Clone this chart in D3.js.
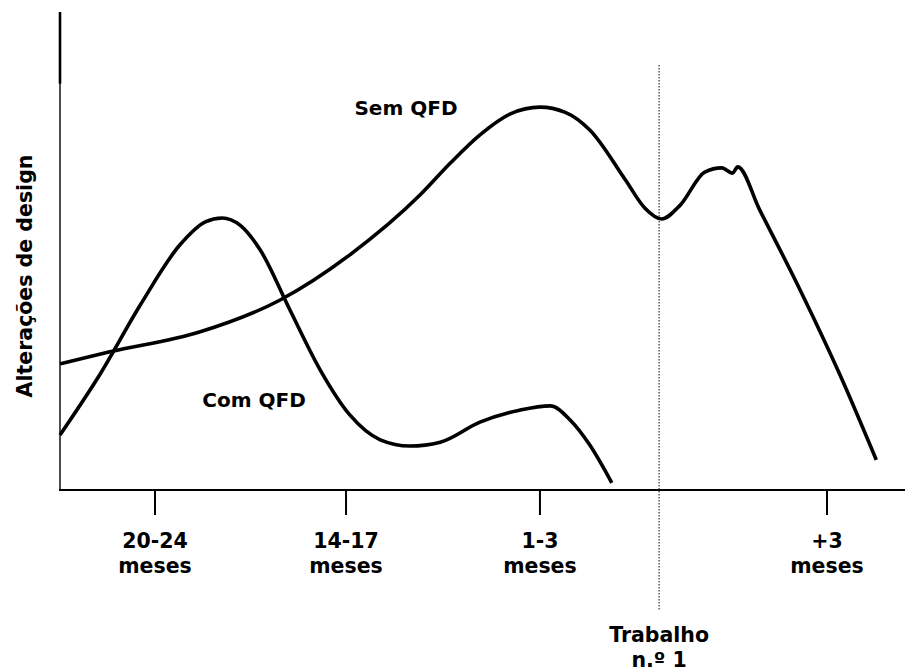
<!DOCTYPE html>
<html><head><meta charset="utf-8">
<script src="https://cdn.jsdelivr.net/npm/d3@7"></script>
<style>body{margin:0;background:#fff}svg{display:block}text{font-family:"DejaVu Sans",Verdana,sans-serif;font-weight:bold;fill:#000}</style>
</head><body><svg id="c" width="914" height="671"></svg>
<script>
// Data (x in % of axis length, y in % of axis height)
const semX = [0, 5.9, 16.6, 26.0, 34.3, 42.6, 46.2, 49.7, 53.3, 56.8, 59.8, 62.7, 66.9, 69.2, 71.2, 73.4, 76.3, 78.3, 79.6, 80.2, 82.8, 87.6, 92.3, 96.6];
const semY = [26.4, 28.9, 33.1, 39.7, 49.2, 61.7, 68.4, 74.3, 78.7, 80.1, 79.0, 75.3, 64.9, 59.0, 56.7, 59.6, 66.5, 67.4, 66.3, 67.6, 58.6, 41.8, 24.1, 6.3];
const comX = [0, 4.7, 9.5, 14.2, 17.2, 19.2, 21.3, 23.7, 27.2, 30.8, 34.3, 37.9, 41.4, 45.0, 49.7, 54.4, 58.0, 60.4, 62.7, 65.3];
const comY = [11.5, 24.1, 38.7, 51.3, 56.1, 56.9, 55.4, 50.2, 37.7, 25.1, 15.7, 10.5, 9.2, 10.0, 14.2, 16.7, 17.6, 14.6, 9.4, 1.5];
const tickPos = [11.24, 33.85, 56.8, 90.77];
const tickTop = ["20-24", "14-17", "1-3", "+3"];
const tickBottom = ["meses", "meses", "meses", "meses"];
const markerPos = 70.9;
const markerLabel = ["Trabalho", "n.º 1"];
const seriesNames = ["Sem QFD", "Com QFD"];
const yTitle = "Alterações de design";

const svg = d3.select("#c");
const x = d3.scaleLinear().domain([0, 100]).range([60, 905]);
const y = d3.scaleLinear().domain([0, 100]).range([490, 12]);

// axes
svg.append("line").attr("x1", x(0)).attr("x2", x(0)).attr("y1", y(100)).attr("y2", y(0)).attr("stroke", "#000").attr("stroke-width", 1.4);
svg.append("line").attr("x1", x(0)).attr("x2", x(0)).attr("y1", y(100)).attr("y2", y(85)).attr("stroke", "#000").attr("stroke-width", 2.6);
svg.append("line").attr("x1", x(0) - 1).attr("x2", x(100)).attr("y1", y(0)).attr("y2", y(0)).attr("stroke", "#000").attr("stroke-width", 2);

// ticks
tickPos.forEach((p, i) => {
  svg.append("line").attr("x1", x(p)).attr("x2", x(p)).attr("y1", y(0)).attr("y2", y(0) + 25).attr("stroke", "#000").attr("stroke-width", 2);
  svg.append("text").attr("x", x(p)).attr("y", 548).attr("text-anchor", "middle").attr("font-size", 20.5).text(tickTop[i]);
  svg.append("text").attr("x", x(p)).attr("y", 573).attr("text-anchor", "middle").attr("font-size", 20.5).text(tickBottom[i]);
});

// dotted marker
svg.append("line").attr("x1", x(markerPos)).attr("x2", x(markerPos)).attr("y1", 65).attr("y2", 610)
  .attr("stroke", "#333").attr("stroke-width", 1.2).attr("stroke-dasharray", "1.5,1.5");
markerLabel.forEach((t, i) => {
  svg.append("text").attr("x", x(markerPos)).attr("y", 642 + i * 25).attr("text-anchor", "middle").attr("font-size", 20.5).text(t);
});

// curves
const line = d3.line().x(d => x(d[0])).y(d => y(d[1])).curve(d3.curveMonotoneX);
svg.append("path").attr("d", line(d3.zip(semX, semY))).attr("fill", "none").attr("stroke", "#000").attr("stroke-width", 3.6).attr("stroke-linejoin", "round");
svg.append("path").attr("d", line(d3.zip(comX, comY))).attr("fill", "none").attr("stroke", "#000").attr("stroke-width", 3.6).attr("stroke-linejoin", "round");

// series labels
svg.append("text").attr("x", 406).attr("y", 115).attr("text-anchor", "middle").attr("font-size", 20).text(seriesNames[0]);
svg.append("text").attr("x", 254).attr("y", 407).attr("text-anchor", "middle").attr("font-size", 20).text(seriesNames[1]);

// y title
svg.append("text").attr("transform", "translate(32,276) rotate(-90)").attr("text-anchor", "middle").attr("font-size", 20.5).text(yTitle);
</script></body></html>
